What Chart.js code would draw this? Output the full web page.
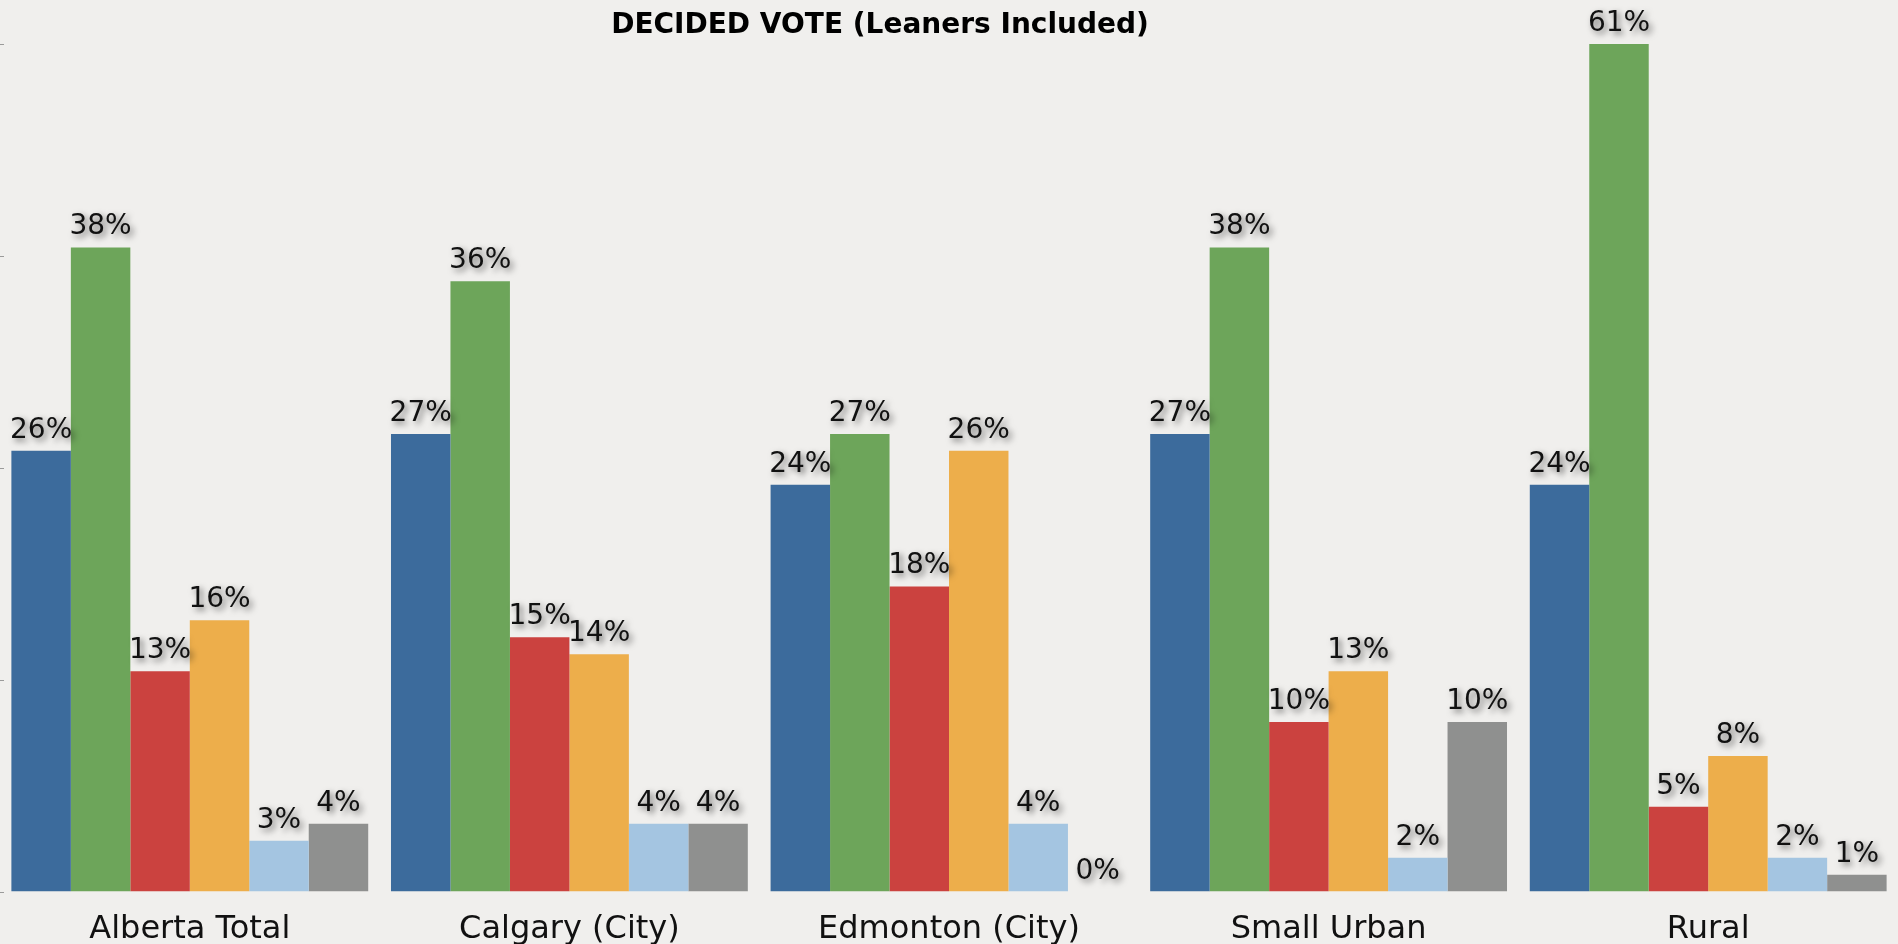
<!DOCTYPE html>
<html>
<head>
<meta charset="utf-8">
<title>Decided Vote</title>
<script src="https://cdn.jsdelivr.net/npm/chart.js@4.4.0/dist/chart.umd.min.js"></script>
<style>
    html, body { margin: 0; padding: 0; background: #f0efed; overflow: hidden; }
    .chart-box { position: relative; width: 1898px; height: 968px; }
</style>
</head>
<body>
<div class="chart-box"><canvas id="myChart"></canvas></div>
<script>
// 1. DATA
const regions = ['Alberta Total', 'Calgary (City)', 'Edmonton (City)', 'Small Urban', 'Rural'];
const pcVotes = [26, 27, 24, 27, 24];
const wildroseVotes = [38, 36, 27, 38, 61];
const liberalVotes = [13, 15, 18, 10, 5];
const ndpVotes = [16, 14, 26, 13, 8];
const albertaPartyVotes = [3, 4, 4, 2, 2];
const otherVotes = [4, 4, 0, 10, 1];
const axisTicks = [0, 12.5, 25, 37.5, 50];
const chartTitle = 'DECIDED VOTE (Leaners Included)';

// 2. PLUGINS
// title sits a bit left of centre in the original
const titlePlugin = {
    id: 'titleText',
    afterDraw(chart) {
        const ctx = chart.ctx;
        ctx.save();
        ctx.font = 'bold 28px "DejaVu Sans"';
        ctx.fillStyle = '#000';
        ctx.textAlign = 'center';
        ctx.textBaseline = 'alphabetic';
        ctx.fillText(chartTitle, 880, 33);
        ctx.restore();
    }
};

// little grey tick marks on the left edge
const tickMarks = {
    id: 'tickMarks',
    afterDraw(chart) {
        const ctx = chart.ctx;
        const y = chart.scales.y;
        ctx.save();
        ctx.strokeStyle = '#9a9a9a';
        ctx.lineWidth = 1;
        axisTicks.forEach(v => {
            const py = Math.round(y.getPixelForValue(v)) + 0.5;
            ctx.beginPath();
            ctx.moveTo(0, py);
            ctx.lineTo(4, py);
            ctx.stroke();
        });
        ctx.restore();
    }
};

// value labels with a soft shadow above each bar
const valueLabels = {
    id: 'valueLabels',
    afterDatasetsDraw(chart) {
        const ctx = chart.ctx;
        const top = chart.chartArea.top;
        ctx.save();
        ctx.font = '28px "DejaVu Sans"';
        ctx.fillStyle = '#111';
        ctx.textAlign = 'center';
        ctx.textBaseline = 'alphabetic';
        ctx.shadowColor = 'rgba(0, 0, 0, 0.55)';
        ctx.shadowBlur = 6;
        ctx.shadowOffsetX = 3;
        ctx.shadowOffsetY = 3;
        chart.data.datasets.forEach((ds, i) => {
            chart.getDatasetMeta(i).data.forEach((bar, j) => {
                const barTop = Math.max(bar.y, top);
                ctx.fillText(ds.data[j] + '%', bar.x, barTop - 13);
            });
        });
        ctx.restore();
    }
};

// 3. CHART
const ctx = document.getElementById('myChart').getContext('2d');
const myChart = new Chart(ctx, {
    type: 'bar',
    data: {
        labels: regions,
        datasets: [
            { label: 'PC', data: pcVotes, backgroundColor: '#3c6b9c' },
            { label: 'Wildrose', data: wildroseVotes, backgroundColor: '#6da55a' },
            { label: 'Liberal', data: liberalVotes, backgroundColor: '#cb423f' },
            { label: 'NDP', data: ndpVotes, backgroundColor: '#edae4b' },
            { label: 'Alberta Party', data: albertaPartyVotes, backgroundColor: '#a4c5e1' },
            { label: 'Other', data: otherVotes, backgroundColor: '#8f908f' }
        ]
    },
    options: {
        responsive: true,
        maintainAspectRatio: false,
        animation: false,
        datasets: {
            bar: { categoryPercentage: 0.94, barPercentage: 1.0 }
        },
        layout: { padding: { top: 44, left: 0, right: 0, bottom: 0 } },
        plugins: {
            legend: { display: false },
            title: { display: false },
            tooltip: { enabled: false }
        },
        scales: {
            x: {
                grid: { display: false, drawTicks: false },
                border: { display: false },
                ticks: {
                    padding: 19,
                    color: '#111',
                    font: { family: 'DejaVu Sans', size: 32 }
                }
            },
            y: {
                display: false,
                min: 0,
                max: 50
            }
        }
    },
    plugins: [titlePlugin, tickMarks, valueLabels]
});
</script>
</body>
</html>
